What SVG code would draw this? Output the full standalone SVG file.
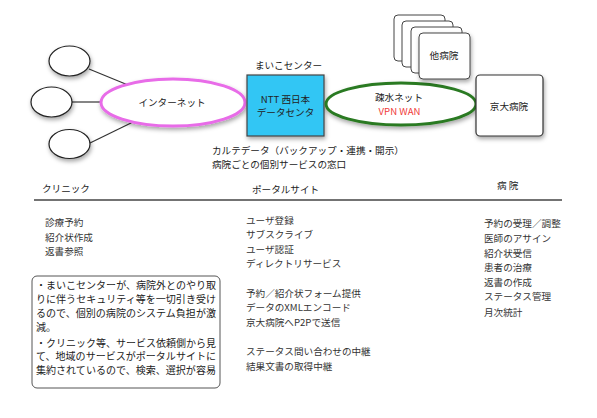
<svg xmlns="http://www.w3.org/2000/svg" width="597" height="418" viewBox="0 0 597 418">
<defs>
<filter id="sh" x="-20%" y="-20%" width="150%" height="160%">
<feDropShadow dx="1" dy="2.5" stdDeviation="2" flood-color="#000" flood-opacity="0.35"/>
</filter>
</defs>
<style>
text{font-family:"Noto Sans CJK JP","Liberation Sans",sans-serif;font-size:9.6px;fill:#222}
.c{text-anchor:middle}
.l{fill:#333}
.n{font-size:10px;fill:#222}
.sm{fill:#fff;stroke:#222;stroke-width:1.2}
.conn{stroke:#333;stroke-width:1.2;fill:none}
.box{fill:#fff;stroke:#444;stroke-width:1}
</style>
<rect width="597" height="418" fill="#fff"/>
<g id="connectors">
<line class="conn" x1="89" y1="69" x2="128" y2="85"/>
<line class="conn" x1="72" y1="102" x2="102" y2="102"/>
<line class="conn" x1="90" y1="143" x2="133" y2="122"/>
</g>
<g id="clinic1"><ellipse class="sm" cx="69.5" cy="61" rx="20.5" ry="15" filter="url(#sh)"/></g>
<g id="clinic2"><ellipse class="sm" cx="51.5" cy="102" rx="20.5" ry="15" filter="url(#sh)"/></g>
<g id="clinic3"><ellipse class="sm" cx="69.5" cy="144" rx="20.5" ry="14.5" filter="url(#sh)"/></g>
<g id="internet">
<ellipse cx="173" cy="102.5" rx="72" ry="23.5" fill="#fff" stroke="#e86ce8" stroke-width="3" filter="url(#sh)"/>
<text class="c" x="172" y="106">インターネット</text>
</g>
<g id="maiko">
<text class="c" x="288.5" y="69">まいこセンター</text>
<rect x="247" y="75" width="77" height="61" fill="#33c6f4" stroke="#444" stroke-width="1.2" filter="url(#sh)"/>
<text class="c" x="285.5" y="102.5">NTT 西日本</text>
<text class="c" x="285.5" y="116">データセンタ</text>
</g>
<g id="sosui">
<ellipse cx="401" cy="104" rx="75" ry="21" fill="#fff" stroke="#2a7a22" stroke-width="3" filter="url(#sh)"/>
<text class="c" x="399" y="101">疎水ネット</text>
<text class="c" x="399.5" y="114.5" style="fill:#f03c3c">VPN WAN</text>
</g>
<g id="others">
<rect class="box" x="394" y="15" width="51" height="46" rx="4"/>
<rect class="box" x="402" y="21" width="51" height="46" rx="4"/>
<rect class="box" x="411" y="27" width="51" height="46" rx="4"/>
<rect class="box" x="419" y="33" width="51" height="46" rx="4" filter="url(#sh)"/>
<text class="c" x="444" y="58.5">他病院</text>
</g>
<g id="kyodai">
<rect x="476" y="75" width="67" height="61" rx="4" fill="#fff" stroke="#333" stroke-width="1.2" filter="url(#sh)"/>
<text class="c" x="509" y="109.5">京大病院</text>
</g>
<g id="caption">
<text x="212" y="153.5">カルテデータ（バックアップ・連携・開示）</text>
<text x="212" y="168">病院ごとの個別サービスの窓口</text>
</g>
<g id="table">
<text x="42" y="192">クリニック</text>
<text x="252" y="192.5">ポータルサイト</text>
<text x="497" y="188.5">病 院</text>
<line x1="34" y1="200" x2="562" y2="200" stroke="#444" stroke-width="1.5"/>
<text class="l" x="45" y="226">診療予約</text>
<text class="l" x="45" y="240.5">紹介状作成</text>
<text class="l" x="45" y="254.5">返書参照</text>
<text class="l" x="246" y="223.5">ユーザ登録</text>
<text class="l" x="246" y="238">サブスクライブ</text>
<text class="l" x="246" y="252.5">ユーザ認証</text>
<text class="l" x="246" y="267">ディレクトリサービス</text>
<text class="l" x="246" y="297">予約／紹介状フォーム提供</text>
<text class="l" x="246" y="311">データのXMLエンコード</text>
<text class="l" x="246" y="325.5">京大病院へP2Pで送信</text>
<text class="l" x="246" y="354.5">ステータス問い合わせの中継</text>
<text class="l" x="246" y="369.5">結果文書の取得中継</text>
<text class="l" x="484" y="227">予約の受理／調整</text>
<text class="l" x="484" y="242">医師のアサイン</text>
<text class="l" x="484" y="256.5">紹介状受信</text>
<text class="l" x="484" y="271">患者の治療</text>
<text class="l" x="484" y="285.5">返書の作成</text>
<text class="l" x="484" y="300">ステータス管理</text>
<text class="l" x="484" y="315.5">月次統計</text>
</g>
<g id="note">
<rect x="32" y="276" width="188" height="112" rx="5" fill="#fff" stroke="#555" stroke-width="1"/>
<text class="n" x="36" y="289" textLength="180" lengthAdjust="spacingAndGlyphs">・まいこセンターが、病院外とのやり取</text>
<text class="n" x="36" y="303" textLength="180" lengthAdjust="spacingAndGlyphs">りに伴うセキュリティ等を一切引き受け</text>
<text class="n" x="36" y="317" textLength="180" lengthAdjust="spacingAndGlyphs">るので、個別の病院のシステム負担が激</text>
<text class="n" x="36" y="331">減。</text>
<text class="n" x="36" y="346.5" textLength="180" lengthAdjust="spacingAndGlyphs">・クリニック等、サービス依頼側から見</text>
<text class="n" x="36" y="360" textLength="180" lengthAdjust="spacingAndGlyphs">て、地域のサービスがポータルサイトに</text>
<text class="n" x="36" y="374" textLength="180" lengthAdjust="spacingAndGlyphs">集約されているので、検索、選択が容易</text>
</g>
</svg>
